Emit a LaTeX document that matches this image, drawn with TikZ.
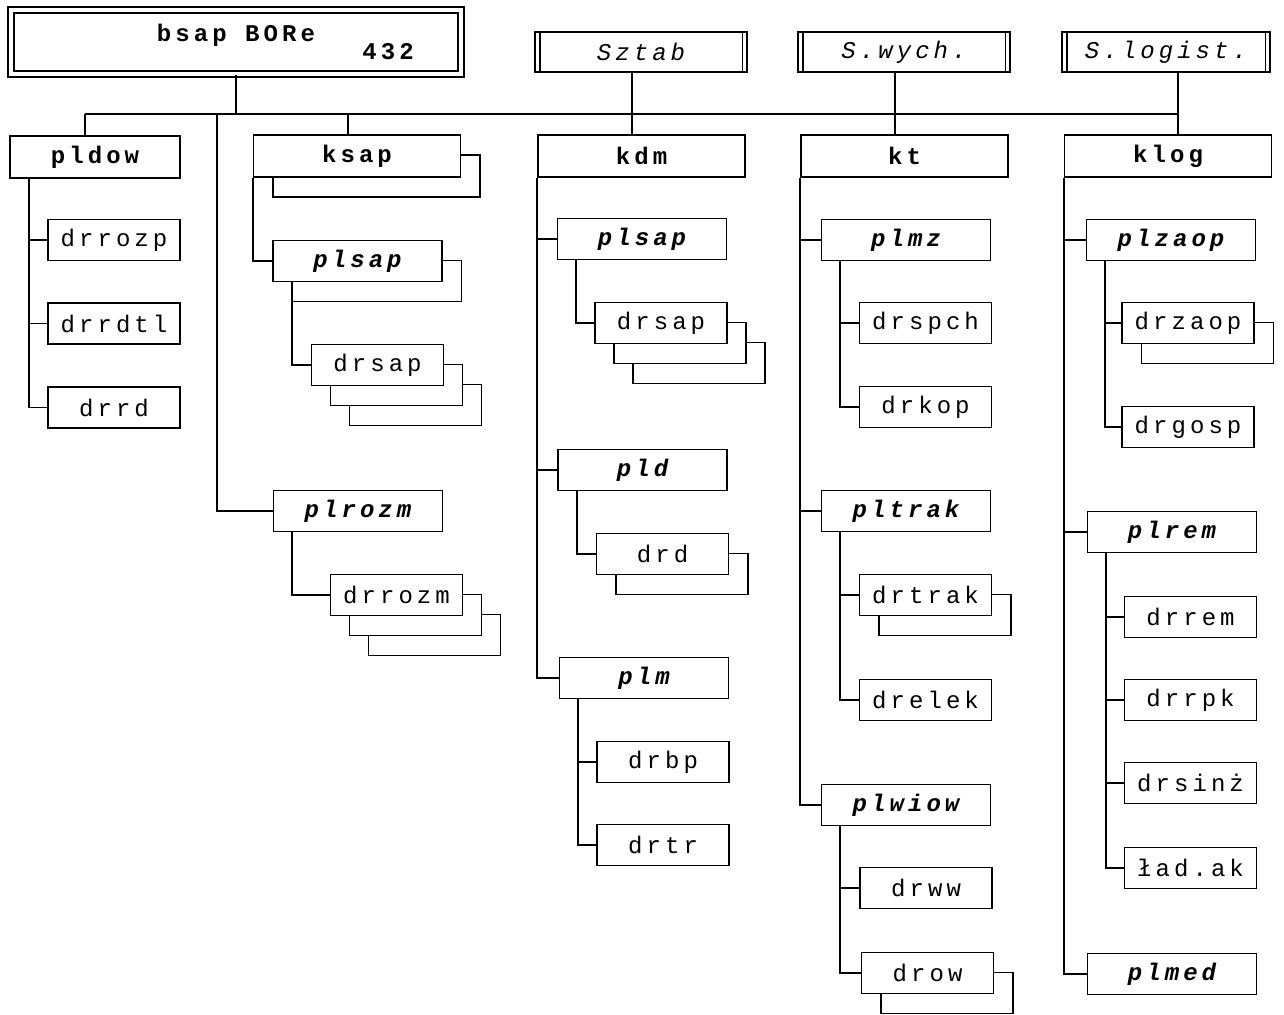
\documentclass[tikz,border=0pt]{standalone}
\usepackage{fontspec}
\setmainfont{Liberation Mono}[LetterSpace=17]
\usetikzlibrary{shadows}

\begin{document}
\begin{tikzpicture}[x=0.5pt, y=-0.5pt, line width=0.9pt,
    orgbox/.style={draw, fill=white, inner sep=0pt, minimum height=20.5pt, font=\fontsize{12}{14}\selectfont},
    unitbox/.style={orgbox, minimum width=103.5pt, minimum height=21pt, font=\fontsize{12}{14}\selectfont\bfseries},
    staffbox/.style={orgbox, minimum width=106pt, minimum height=20pt, font=\fontsize{12}{14}\selectfont\itshape},
    plbox/.style={orgbox, minimum width=84.5pt, font=\fontsize{12}{14}\selectfont\bfseries\itshape},
    drbox/.style={orgbox, minimum width=66pt},
    oneshadow/.style={copy shadow={shadow xshift=9.75pt, shadow yshift=-10pt}},
    twoshadows/.style={double copy shadow={shadow xshift=9.5pt, shadow yshift=-10pt}}]
    \useasboundingbox (0,0) rectangle (1284,1015);

    % Battalion
    \node[unitbox, double, double distance=2.2pt, minimum width=225pt, minimum height=32pt, align=center] (bsap) at (236,42) {bsap BORe\\[-5pt]\hspace*{152pt}432};

    % Staff boxes
    \node[staffbox] (sztab) at (641,52) {Sztab};
    \node[staffbox] (swych) at (904,52) {S.wych.};
    \node[staffbox, minimum width=104pt] (slogist) at (1166,52) {S.logist.};
    \foreach \s in {sztab,swych,slogist}
    {
        \draw ([xshift=2.75pt]\s.north west) -- ([xshift=2.75pt]\s.south west);
        \draw ([xshift=-2.75pt]\s.north east) -- ([xshift=-2.75pt]\s.south east);
    }

    % Companies
    \node[unitbox, minimum width=85pt] (pldow) at (95,157) {pldow};
    \node[unitbox, oneshadow] (ksap) at (357,156) {ksap};
    \node[unitbox] (kdm) at (641.5,156) {kdm};
    \node[unitbox] (kt) at (904.5,156) {kt};
    \node[unitbox] (klog) at (1168,156) {klog};

    % Main line
    \coordinate (busL) at (85,114);
    \coordinate (busR) at (1178,114);
    \coordinate (rozm) at (217,114);
    \draw (busL) -- (busR);
    \draw (bsap.south) -- (bsap.south |- busL);
    \draw (busL) -- (busL |- pldow.north);
    \draw ([xshift=-4.5pt]ksap.north) -- ([xshift=-4.5pt]ksap.north |- busL);
    \draw ([xshift=-4.5pt]sztab.south) -- ([xshift=-4.5pt]sztab.south |- kdm.north);
    \draw ([xshift=-4.5pt]swych.south) -- ([xshift=-4.5pt]swych.south |- kt.north);
    \draw (busR |- slogist.south) -- (busR |- klog.north);

    % pldow
    \node[drbox] (drrozp) at (114,240) {drrozp};
    \node[drbox] (drrdtl) at (114,323.5) {drrdtl};
    \node[drbox] (drrd) at (114,407.5) {drrd};
    \foreach \c in {drrozp,drrdtl,drrd}
    {
        \draw ([xshift=10pt]pldow.south west) |- (\c.west);
    }

    % ksap
    \node[plbox, oneshadow] (plsapA) at (357.5,261) {plsap};
    \node[drbox, twoshadows] (drsapA) at (377.5,365) {drsap};
    \node[plbox] (plrozm) at (358,511) {plrozm};
    \node[drbox, twoshadows] (drrozm) at (396.5,595) {drrozm};
    \draw (ksap.south west) |- (plsapA.west);
    \draw ([xshift=9.75pt]plsapA.south west) |- (drsapA.west);
    \draw (rozm) |- (plrozm.west);
    \draw ([xshift=9.75pt]plrozm.south west) |- (drrozm.west);

    % kdm
    \node[plbox] (plsapB) at (642,239) {plsap};
    \node[drbox, twoshadows] (drsapB) at (661,323) {drsap};
    \node[plbox] (pld) at (642.5,470) {pld};
    \node[drbox, oneshadow] (drd) at (662.5,554) {drd};
    \node[plbox] (plm) at (644,678) {plm};
    \node[drbox] (drbp) at (663,762) {drbp};
    \node[drbox] (drtr) at (663,845) {drtr};
    \foreach \c in {plsapB,pld,plm}
    {
        \draw (kdm.south west) |- (\c.west);
    }
    \draw ([xshift=9.75pt]plsapB.south west) |- (drsapB.west);
    \draw ([xshift=9.75pt]pld.south west) |- (drd.west);
    \foreach \c in {drbp,drtr}
    {
        \draw ([xshift=9.75pt]plm.south west) |- (\c.west);
    }

    % kt
    \node[plbox] (plmz) at (906,240) {plmz};
    \node[drbox] (drspch) at (925.5,323) {drspch};
    \node[drbox] (drkop) at (925.5,407) {drkop};
    \node[plbox] (pltrak) at (906,511) {pltrak};
    \node[drbox, oneshadow] (drtrak) at (925.5,595) {drtrak};
    \node[drbox] (drelek) at (925.5,700) {drelek};
    \node[plbox] (plwiow) at (906,805) {plwiow};
    \node[drbox] (drww) at (926,888) {drww};
    \node[drbox, oneshadow] (drow) at (927.5,973) {drow};
    \foreach \c in {plmz,pltrak,plwiow}
    {
        \draw (kt.south west) |- (\c.west);
    }
    \foreach \c in {drspch,drkop}
    {
        \draw ([xshift=9.75pt]plmz.south west) |- (\c.west);
    }
    \foreach \c in {drtrak,drelek}
    {
        \draw ([xshift=9.75pt]pltrak.south west) |- (\c.west);
    }
    \foreach \c in {drww,drow}
    {
        \draw ([xshift=9.75pt]plwiow.south west) |- (\c.west);
    }

    % klog
    \node[plbox] (plzaop) at (1171,240) {plzaop};
    \node[drbox, oneshadow] (drzaop) at (1188,323) {drzaop};
    \node[drbox] (drgosp) at (1188,427) {drgosp};
    \node[plbox] (plrem) at (1172,532) {plrem};
    \node[drbox] (drrem) at (1190.5,617) {drrem};
    \node[drbox] (drrpk) at (1190.5,700) {drrpk};
    \node[drbox] (drsinz) at (1190.5,783) {drsinż};
    \node[drbox] (ladak) at (1190.5,868) {ład.ak};
    \node[plbox] (plmed) at (1172,974) {plmed};
    \foreach \c in {plzaop,plrem,plmed}
    {
        \draw (klog.south west) |- (\c.west);
    }
    \foreach \c in {drzaop,drgosp}
    {
        \draw ([xshift=9.75pt]plzaop.south west) |- (\c.west);
    }
    \foreach \c in {drrem,drrpk,drsinz,ladak}
    {
        \draw ([xshift=9.75pt]plrem.south west) |- (\c.west);
    }
\end{tikzpicture}
\end{document}
